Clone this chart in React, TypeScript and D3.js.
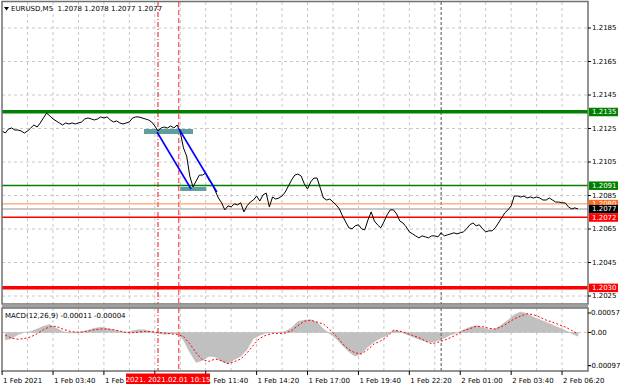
import React from "react";
import * as d3 from "d3";

// ---- data ----
const symbolTitle = "EURUSD,M5  1.2078 1.2078 1.2077 1.2077";
const macdTitle = "MACD(12,26,9) -0.00011 -0.00004";

// close prices, 10-minute samples starting 1 Feb 01:00 (minutes from 1 Feb 00:00)
const priceStartMin = 60;
const priceStepMin = 10;
const closePrices = [
  1.21235, 1.21223, 1.21247, 1.21253, 1.21241, 1.21241, 1.21235, 1.21223, 1.21235, 1.21253,
  1.21271, 1.21259, 1.21283, 1.21313, 1.21342, 1.21325, 1.21307, 1.21295, 1.21283, 1.21271,
  1.21283, 1.21277, 1.21283, 1.21277, 1.21283, 1.21289, 1.21307, 1.21313, 1.21307, 1.21301,
  1.21307, 1.21319, 1.21313, 1.21319, 1.21301, 1.21289, 1.21295, 1.21283, 1.21277, 1.21283,
  1.21289, 1.21313, 1.21319, 1.21319, 1.21313, 1.21307, 1.21301, 1.21289, 1.21265, 1.21235,
  1.21253, 1.21259, 1.21253, 1.21265, 1.21253, 1.21271, 1.21229, 1.21134, 1.21086, 1.20966,
  1.20901, 1.20937, 1.20972, 1.20972, 1.20984, 1.20943, 1.20919, 1.20877, 1.20835, 1.20806,
  1.20764, 1.20788, 1.20782, 1.208, 1.20794, 1.20806, 1.20752, 1.20788, 1.20811, 1.20823,
  1.20847, 1.20817, 1.20853, 1.20865, 1.20782, 1.20841, 1.20829, 1.20835, 1.20847, 1.20871,
  1.20907, 1.20943, 1.20972, 1.20978, 1.20966, 1.20919, 1.20889, 1.20931, 1.20954, 1.20954,
  1.20895, 1.20835, 1.20823, 1.20829, 1.20811, 1.20794, 1.2077, 1.20728, 1.20692, 1.20657,
  1.20651, 1.20669, 1.20675, 1.20651, 1.20645, 1.20704, 1.20752, 1.20698, 1.20675, 1.20657,
  1.20692, 1.20734, 1.20764, 1.20764, 1.2074, 1.20698, 1.20686, 1.20663, 1.20633, 1.20621,
  1.20609, 1.20597, 1.20609, 1.20603, 1.20597, 1.20609, 1.20609, 1.20603, 1.20627, 1.20609,
  1.20615, 1.20621, 1.20627, 1.20621, 1.20627, 1.20633, 1.20651, 1.20675, 1.20686, 1.20669,
  1.20675, 1.20651, 1.20633, 1.20639, 1.20639, 1.20657, 1.20686, 1.20716, 1.20746, 1.20764,
  1.20788, 1.20847, 1.20847, 1.20841, 1.20847, 1.20835, 1.20841, 1.20835, 1.20841, 1.20835,
  1.20823, 1.20823, 1.20835, 1.20823, 1.20811, 1.20811, 1.20806, 1.20806, 1.20782, 1.2077,
  1.20776, 1.2077,
];

// MACD, 20-minute samples starting 1 Feb 01:10
const macdStartMin = 70;
const macdStepMin = 20;
const macdMain = [
  -0.00022, -0.00018, -0.00006, 0, 0.00003, 0.0001, 0.00018, 0.00023, 0.00013, 0.00003,
  -0.00001, -0.00001, 0.00002, 0.00006, 0.00012, 0.00015, 0.00012, 0.00007, 0.00003, 0,
  0.00005, 0.00008, 0.00007, 0.00003, -0.00003, -0.00005, -0.00004, -0.00003, -0.00022, -0.00058,
  -0.00088, -0.00082, -0.0007, -0.00072, -0.00085, -0.00092, -0.0008, -0.0007, -0.0005, -0.00018,
  -0.00008, -0.00002, 0, 0, 0.00003, 0.00014, 0.00032, 0.00036, 0.00037, 0.0003,
  0.0001, -0.00004, -0.00018, -0.00038, -0.00057, -0.0007, -0.00062, -0.00042, -0.00027, -0.00016,
  -0.00009, 0.00007, 0.00003, -0.00005, -0.00013, -0.0002, -0.00026, -0.00029, -0.00024, -0.00016,
  -0.00007, -0.00001, 0.00007, 0.00015, 0.0002, 0.00014, 0.00008, 0.0001, 0.00022, 0.00036,
  0.00052, 0.0006, 0.00055, 0.00045, 0.00037, 0.0003, 0.00022, 0.00014, 0.00006, -0.00003,
  -0.00011,
];
const macdSignal = [
  -0.00008, -0.00017, -0.0002, -0.00018, -0.00013, -0.00004, 0.00008, 0.00017, 0.00018, 0.0001,
  0.00004, 0.00001, 0.00001, 0.00004, 0.00008, 0.0001, 0.0001, 0.00008, 0.00004, 0,
  -0.00001, 0.00001, 0.00003, 0.00002, 0, -0.00002, -0.00004, -0.00006, -0.00012, -0.00033,
  -0.0006, -0.0008, -0.00085, -0.00078, -0.00083, -0.00092, -0.00086, -0.00078, -0.0006, -0.00037,
  -0.00017, -0.00008, -0.00003, -0.00003, -0.00002, 0.00005, 0.0002, 0.00033, 0.00036, 0.0003,
  0.00025, 0.00008, -0.0001, -0.00033, -0.0005, -0.0006, -0.00063, -0.0005, -0.00033, -0.00025,
  -0.00012, 0.00006, 0.00004, -0.00002, -0.00009, -0.00015, -0.00025, -0.00033, -0.00029, -0.00023,
  -0.00015, -0.00006, 0.00005, 0.00011, 0.00018, 0.00017, 0.00012, 0.0001, 0.00017, 0.00028,
  0.0004, 0.00048, 0.00055, 0.00052, 0.00045, 0.00036, 0.0003, 0.00023, 0.00016, 0.00006,
  -0.00004,
];

const priceTicks = [1.2185, 1.2165, 1.2145, 1.2125, 1.2105, 1.2085, 1.2065, 1.2045, 1.2025];
const macdTicks = [0.00057, 0, -0.00097];
const macdTickLabels = ["0.00057", "0.00", "-0.00097"];

const timeTickMin = [60, 220, 380, 540, 700, 860, 1020, 1180, 1340, 1500, 1660, 1820];
const timeLabelMin = [60, 220, 380, 700, 860, 1020, 1180, 1340, 1500, 1660, 1820];
const timeLabels = [
  "1 Feb 2021", "1 Feb 03:40", "1 Feb 06:20", "1 Feb 11:40", "1 Feb 14:20",
  "1 Feb 17:00", "1 Feb 19:40", "1 Feb 22:20", "2 Feb 01:00", "2 Feb 03:40", "2 Feb 06:20",
];
const gridStepMin = 80;
const daySeparatorMin = 1440;

// horizontal levels
const levelPrices = [1.2135, 1.2091, 1.208, 1.2077, 1.2072, 1.203];
const levelLabels = ["1.2135", "1.2091", "1.2080", "1.2077", "1.2072", "1.2030"];

// vertical markers (minutes)
const markerMin = [550, 615];
const markerLabel = "2021. 2021.02.01 10:15";

// trend lines [t1, p1, t2, p2]
const trendLines = [
  [547, 1.21229, 654, 1.20889],
  [616, 1.21247, 735, 1.20871],
];
// zones [t1, pTop, t2, pBottom]
const zones = [
  [506, 1.21247, 660, 1.21217],
  [620, 1.20901, 702, 1.20877],
];

// ---- layout ----
const W = 620;
const H = 388;
const L = 2;
const R = 588;
const mainTop = 2;
const mainBottom = 304;
const macdTop = 308;
const macdBottom = 371;
const FONT = "DejaVu Sans, Verdana, sans-serif";
const FS = 7;

const levelStyles = [
  { color: "#008000", width: 3.5, box: "#008000", text: "#fff" },
  { color: "#008000", width: 1.5, box: "#008000", text: "#fff" },
  { color: "#ff8c40", width: 1, box: "#ff6a20", text: "#fff" },
  { color: "#c8c8c8", width: 2, box: "#000000", text: "#fff" },
  { color: "#ff0000", width: 1.5, box: "#ff0000", text: "#fff" },
  { color: "#ff0000", width: 3.5, box: "#ff0000", text: "#fff" },
];

export default function App() {
  const x = d3.scaleLinear().domain([60, 1900]).range([2.1, 587.5]);
  const y = d3.scaleLinear().domain([1.2185, 1.2025]).range([28, 296]);
  const ym = d3.scaleLinear().domain([0.00057, -0.00097]).range([313, 365.5]);

  const priceLine = d3
    .line<number>()
    .x((_, i) => x(priceStartMin + i * priceStepMin))
    .y((d) => y(d))(closePrices) as string;

  const histArea = d3
    .area<number>()
    .x((_, i) => x(macdStartMin + i * macdStepMin))
    .y0(ym(0))
    .y1((d) => ym(d))(macdMain) as string;

  const sigLine = d3
    .line<number>()
    .x((_, i) => x(macdStartMin + i * macdStepMin))
    .y((d) => ym(d))(macdSignal) as string;

  const gridTimes = d3.range(60 + gridStepMin, 1900, gridStepMin);

  return (
    <svg
      width={W}
      height={H}
      viewBox={`0 0 ${W} ${H}`}
      style={{ position: "absolute", left: 0, top: 0, background: "#fff" }}
      fontFamily={FONT}
      fontSize={FS}
    >
      <defs>
        <clipPath id="clipMain">
          <rect x={L} y={mainTop} width={R - L} height={mainBottom - mainTop} />
        </clipPath>
        <clipPath id="clipMacd">
          <rect x={L} y={macdTop} width={R - L} height={macdBottom - macdTop} />
        </clipPath>
      </defs>
      <rect x={0} y={0} width={W} height={H} fill="#fff" />

      {/* main panel grid */}
      <g clipPath="url(#clipMain)">
        {gridTimes.map((t) => (
          <line key={"vg" + t} x1={x(t)} x2={x(t)} y1={mainTop} y2={mainBottom}
            stroke="#c8c8c8" strokeDasharray="3,3" />
        ))}
        {priceTicks.map((p) => (
          <line key={"hg" + p} x1={L} x2={R} y1={y(p)} y2={y(p)}
            stroke="#c8c8c8" strokeDasharray="3,3" />
        ))}
        <line x1={x(daySeparatorMin)} x2={x(daySeparatorMin)} y1={mainTop} y2={mainBottom}
          stroke="#707070" strokeWidth={1.2} strokeDasharray="3,2" />
        {markerMin.map((t, i) => (
          <line key={"mk" + i} x1={x(t)} x2={x(t)} y1={mainTop} y2={mainBottom}
            stroke={i === 0 ? "#e8101a" : "#ff6060"} strokeWidth={i === 0 ? 1 : 1.4}
            strokeDasharray={i === 0 ? "5,2,1,2" : "5,3"} />
        ))}
        {/* levels */}
        {levelPrices.map((p, i) => (
          <line key={"lv" + i} x1={L} x2={R} y1={y(p)} y2={y(p)}
            stroke={levelStyles[i].color} strokeWidth={levelStyles[i].width} />
        ))}
        {/* zones */}
        {zones.map((z, i) => (
          <rect key={"z" + i} x={x(z[0])} y={y(z[1])} width={x(z[2]) - x(z[0])}
            height={y(z[3]) - y(z[1])} fill="#5f9ea0" />
        ))}
        <path d={priceLine} fill="none" stroke="#000" strokeWidth={1} strokeLinejoin="round" />
        {trendLines.map((l, i) => (
          <line key={"tl" + i} x1={x(l[0])} y1={y(l[1])} x2={x(l[2])} y2={y(l[3])}
            stroke="#0000ff" strokeWidth={1.6} />
        ))}
      </g>

      {/* MACD panel */}
      <g clipPath="url(#clipMacd)">
        {gridTimes.map((t) => (
          <line key={"mvg" + t} x1={x(t)} x2={x(t)} y1={macdTop} y2={macdBottom}
            stroke="#c8c8c8" strokeDasharray="3,3" />
        ))}
        <line x1={L} x2={R} y1={ym(0)} y2={ym(0)} stroke="#c8c8c8" strokeDasharray="3,3" />
        <path d={histArea} fill="#c0c0c0" stroke="#b8b8b8" strokeWidth={0.5} />
        <line x1={x(daySeparatorMin)} x2={x(daySeparatorMin)} y1={macdTop} y2={macdBottom}
          stroke="#707070" strokeWidth={1.2} strokeDasharray="3,2" />
        {markerMin.map((t, i) => (
          <line key={"mmk" + i} x1={x(t)} x2={x(t)} y1={macdTop} y2={macdBottom}
            stroke={i === 0 ? "#e8101a" : "#ff6060"} strokeWidth={i === 0 ? 1 : 1.4}
            strokeDasharray={i === 0 ? "5,2,1,2" : "5,3"} />
        ))}
        <path d={sigLine} fill="none" stroke="#ff0000" strokeWidth={1} strokeDasharray="2,2" />
      </g>

      {/* frames */}
      <rect x={L} y={mainTop - 0.5} width={R - L} height={mainBottom - mainTop + 0.5}
        fill="none" stroke="#707070" strokeWidth={1.5} />
      <rect x={L} y={mainBottom + 0.5} width={R - L} height={macdTop - mainBottom - 1}
        fill="#a0a0a0" />
      <rect x={L} y={macdTop} width={R - L} height={macdBottom - macdTop}
        fill="none" stroke="#707070" strokeWidth={1.5} />

      {/* titles */}
      <path d="M4,7 L9,7 L6.5,10.5 Z" fill="#000" />
      <text x={11} y={11} fill="#000" style={{ whiteSpace: "pre" }}>{symbolTitle}</text>
      <text x={5} y={318} fill="#000">{macdTitle}</text>

      {/* price axis */}
      {priceTicks.map((p) => (
        <g key={"pt" + p}>
          <line x1={R} x2={R + 3} y1={y(p)} y2={y(p)} stroke="#000" />
          <text x={R + 4} y={y(p)} dy="0.35em" fill="#000">{p.toFixed(4)}</text>
        </g>
      ))}
      {levelPrices.map((p, i) => (
        <g key={"lb" + i}>
          <rect x={R + 1} y={y(p) - 4} width={29} height={8.5} fill={levelStyles[i].box} />
          <text x={R + 4} y={y(p)} dy="0.36em" fill={levelStyles[i].text}>{levelLabels[i]}</text>
        </g>
      ))}

      {/* macd axis */}
      {macdTicks.map((v, i) => (
        <g key={"mt" + i}>
          <line x1={R} x2={R + 3} y1={ym(v)} y2={ym(v)} stroke="#000" />
          <text x={v < 0 ? R + 1 : R + 3} y={ym(v)} dy="0.35em" fill="#000">{macdTickLabels[i]}</text>
        </g>
      ))}

      {/* time axis */}
      {timeTickMin.map((t, i) => (
        <line key={"tk" + i} x1={x(t)} x2={x(t)} y1={macdBottom} y2={macdBottom + 4} stroke="#000" />
      ))}
      {timeLabelMin.map((t, i) => (
        <text key={"tx" + i} x={x(t) + 1} y={382.5} fill="#000">{timeLabels[i]}</text>
      ))}
      <rect x={126} y={373.5} width={84} height={10.5} fill="#ff0000" />
      <text x={168} y={382} textAnchor="middle" fill="#fff">{markerLabel}</text>
    </svg>
  );
}
